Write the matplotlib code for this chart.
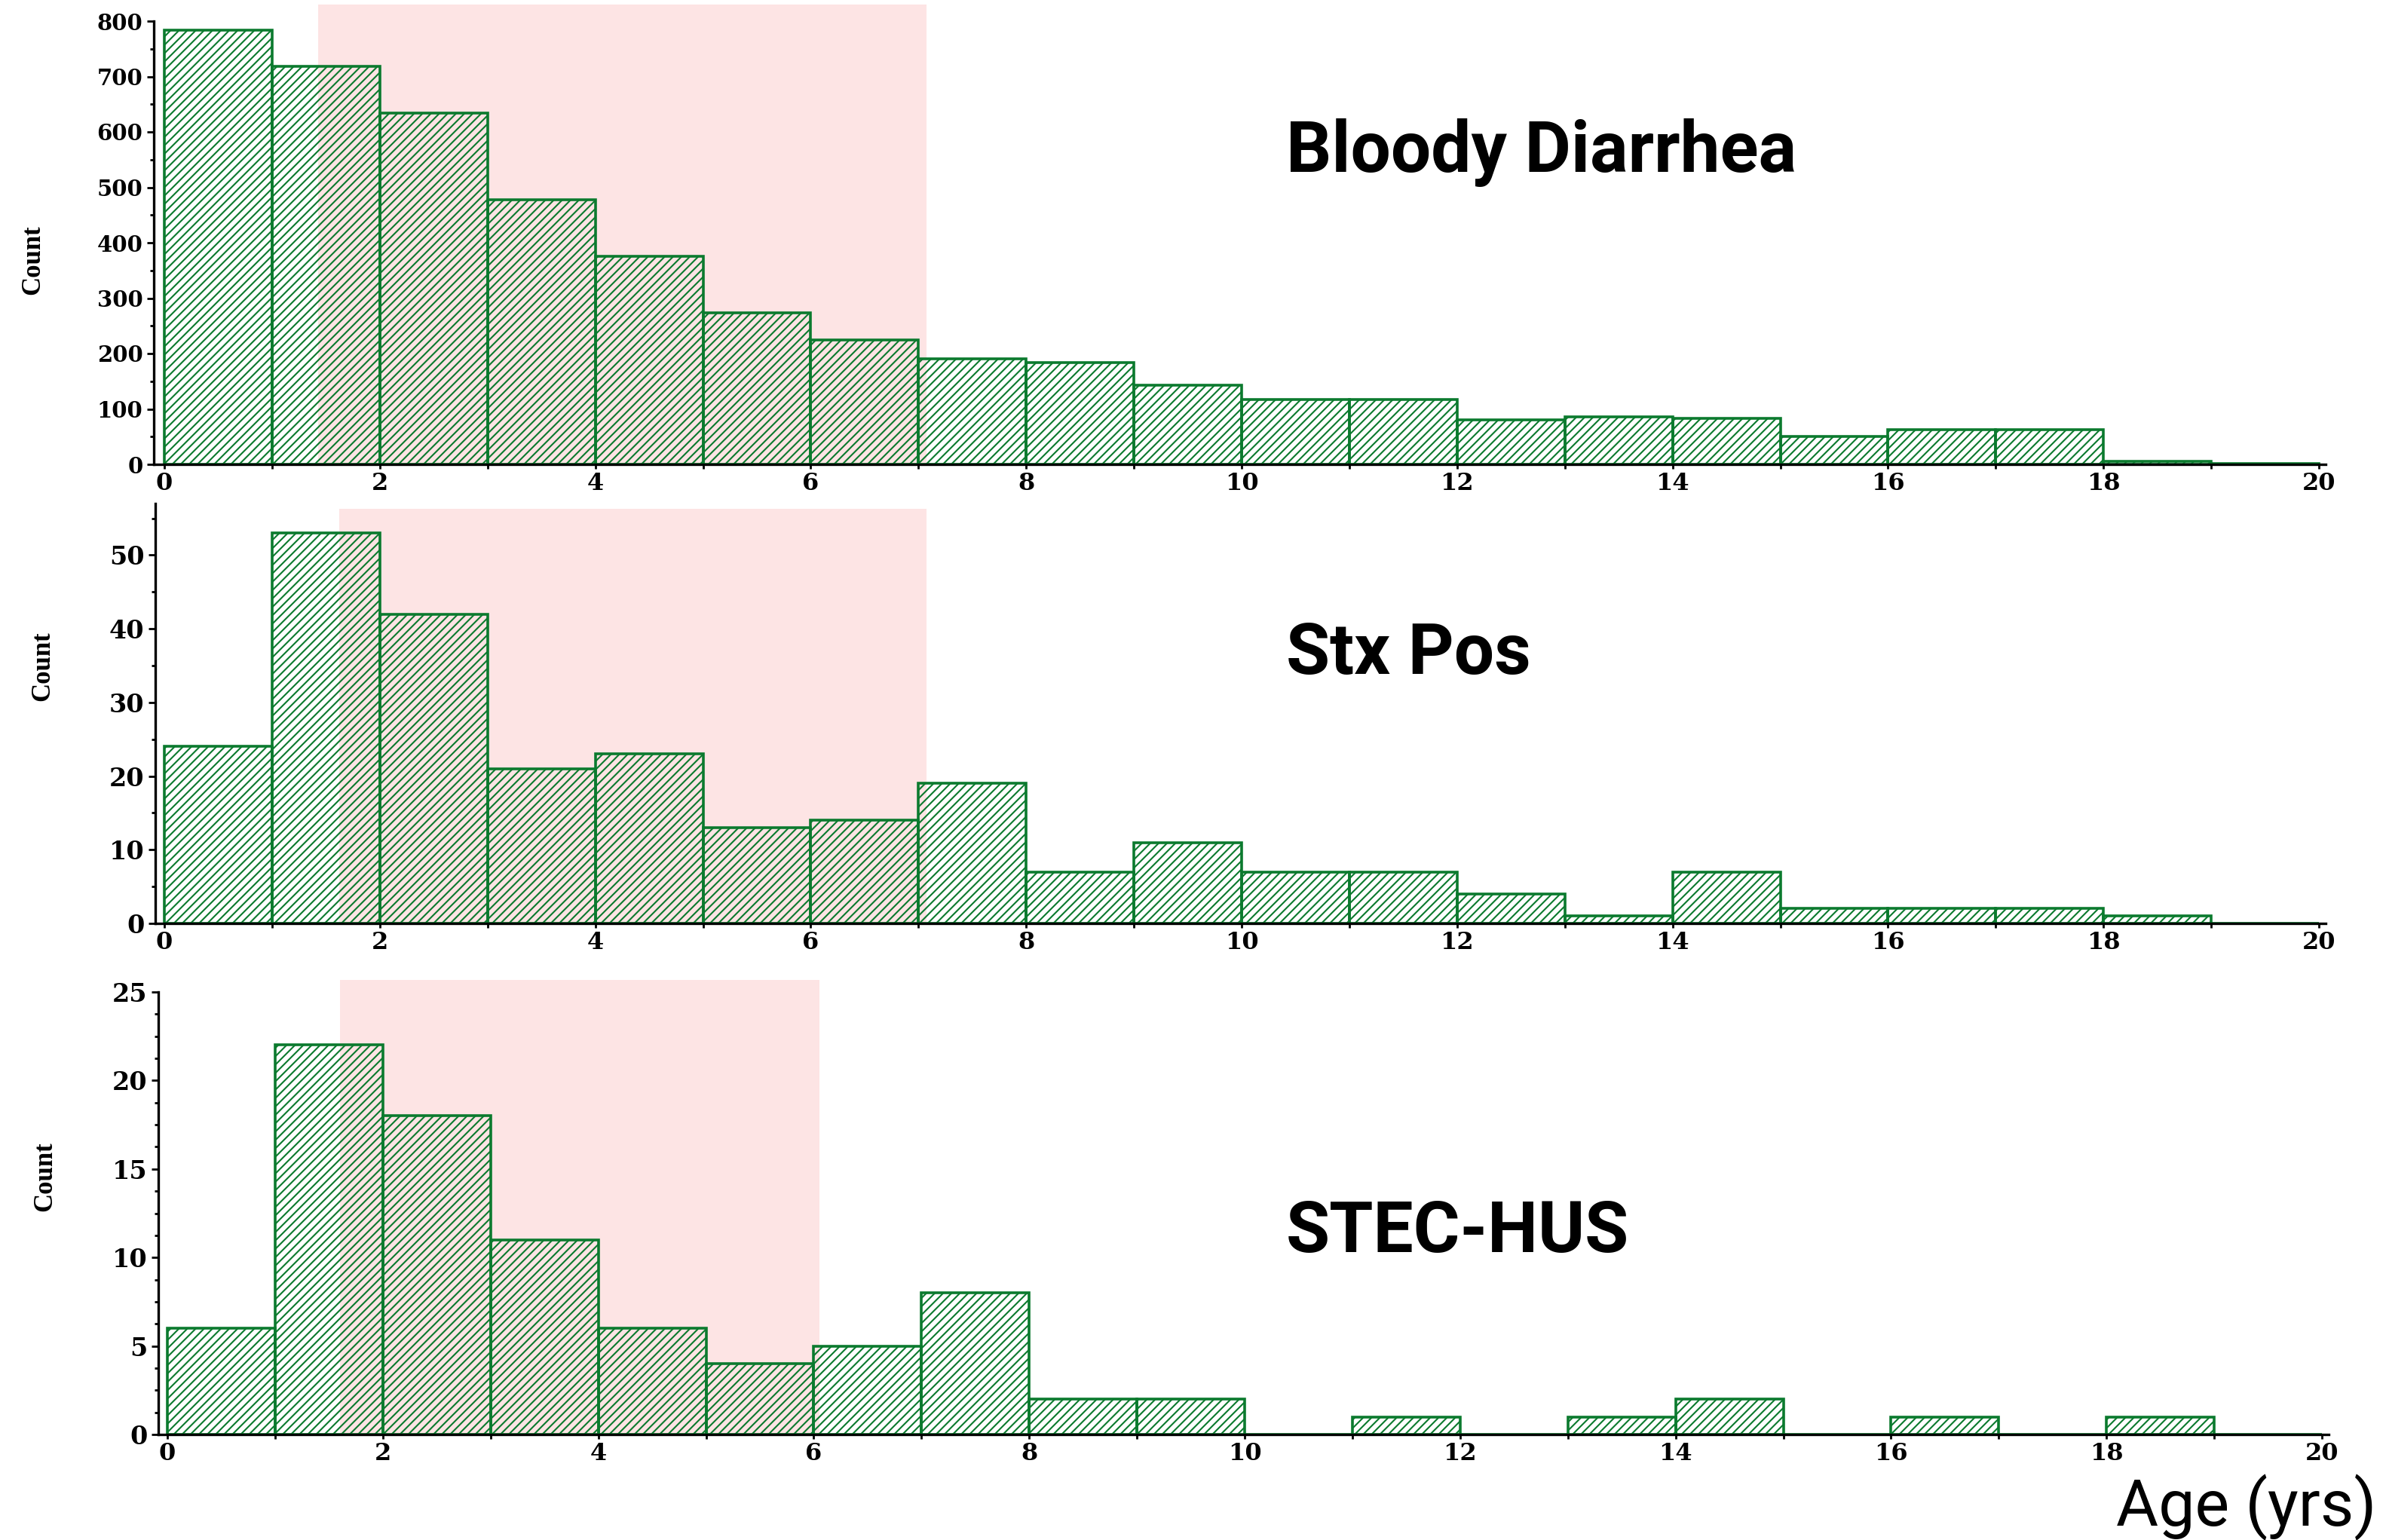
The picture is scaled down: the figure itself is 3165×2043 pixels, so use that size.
import matplotlib
matplotlib.use("Agg")
import matplotlib.pyplot as plt
from matplotlib.patches import Rectangle
from matplotlib.ticker import MultipleLocator, AutoMinorLocator

# ---------------- data ----------------
bin_left = list(range(0, 20))  # 1-year bins, 0..20 years

bloody_diarrhea = [783, 719, 634, 478, 375, 274, 225, 190, 184, 143,
                   117, 117, 80, 86, 83, 51, 62, 62, 6, 2]
stx_pos = [24, 53, 42, 21, 23, 13, 14, 19, 7, 11,
           7, 7, 4, 1, 7, 2, 2, 2, 1, 0]
stec_hus = [6, 22, 18, 11, 6, 4, 5, 8, 2, 2,
            0, 1, 0, 1, 2, 0, 1, 0, 1, 0]

panel_titles = ["Bloody Diarrhea", "Stx Pos", "STEC-HUS"]
y_max = [800, 57, 25]
y_major = [100, 10, 5]
y_minor_div = [2, 2, 4]
x_ticks = list(range(0, 21, 2))

# highlighted age windows (start, end, top)
highlight_start = [1.43, 1.625, 1.60]
highlight_end = [7.075, 7.075, 6.05]
highlight_top = [830, 56.3, 25.7]

series = [bloody_diarrhea, stx_pos, stec_hus]

# ---------------- style ----------------
W, H = 3165, 2043
DPI = 100
GREEN = "#0b7a2e"
PINK = "#fde4e4"
plt.rcParams["hatch.linewidth"] = 1.5

fig = plt.figure(figsize=(W / DPI, H / DPI), dpi=DPI)

# axes rectangles in pixels: (left, right, bottom, top), data-0 x pixel
ax_px = [
    (204, 3084.6, 616, 28, 218),
    (206, 3085.0, 1225, 668, 218),
    (210, 3089.0, 1903, 1316, 222),
]
px_per_unit = 142.9

title_pos = [(0.539, 0.8884), (0.539, 0.5624), (0.539, 0.187)]
count_pos = [(0.0139, 0.8311), (0.0180, 0.5673), (0.0190, 0.2359)]
ytick_fs = [21, 24, 24]

for i, (vals, title) in enumerate(zip(series, panel_titles)):
    l, r, b, t, x0 = ax_px[i]
    ax = fig.add_axes([l / W, (H - b) / H, (r - l) / W, (b - t) / H])
    xlim_left = -(x0 - l) / px_per_unit
    xlim_right = xlim_left + (r - l) / px_per_unit

    # highlight band behind the bars
    ax.add_patch(Rectangle((highlight_start[i], 0),
                           highlight_end[i] - highlight_start[i],
                           highlight_top[i],
                           facecolor=PINK, edgecolor="none",
                           zorder=0, clip_on=False))

    ax.bar(bin_left, vals, width=1.0, align="edge",
           facecolor="none", edgecolor=GREEN, linewidth=2.6,
           hatch="///", zorder=2)

    ax.set_xlim(xlim_left, xlim_right)
    ax.set_ylim(0, y_max[i])

    for s in ["top", "right"]:
        ax.spines[s].set_visible(False)
    for s in ["left", "bottom"]:
        ax.spines[s].set_linewidth(2.4)
        ax.spines[s].set_zorder(3)

    ax.set_xticks(x_ticks)
    ax.xaxis.set_minor_locator(MultipleLocator(1))
    ax.yaxis.set_major_locator(MultipleLocator(y_major[i]))
    ax.yaxis.set_minor_locator(AutoMinorLocator(y_minor_div[i]))

    ax.tick_params(axis="x", which="major", length=4.5, width=2,
                   direction="out", pad=3, labelsize=23)
    ax.tick_params(axis="x", which="minor", length=4.5, width=2,
                   direction="out")
    ax.tick_params(axis="y", which="major", length=6.5, width=2,
                   direction="out", pad=4, labelsize=ytick_fs[i])
    ax.tick_params(axis="y", which="minor", length=3.5, width=2,
                   direction="out")
    for lab in ax.get_xticklabels() + ax.get_yticklabels():
        lab.set_fontfamily("DejaVu Serif")
        lab.set_fontweight("bold")

    fig.text(title_pos[i][0], title_pos[i][1], title,
             fontfamily="Roboto", fontweight="bold", fontsize=68,
             ha="left", va="baseline")
    fig.text(count_pos[i][0], count_pos[i][1], "Count",
             fontfamily="Liberation Serif", fontweight="bold", fontsize=25,
             rotation=90, ha="center", va="center")

fig.text(0.996, 0.0093, "Age (yrs)", fontfamily="Roboto", fontsize=62,
         ha="right", va="baseline")

fig.savefig("out.png", dpi=DPI, facecolor="white")
